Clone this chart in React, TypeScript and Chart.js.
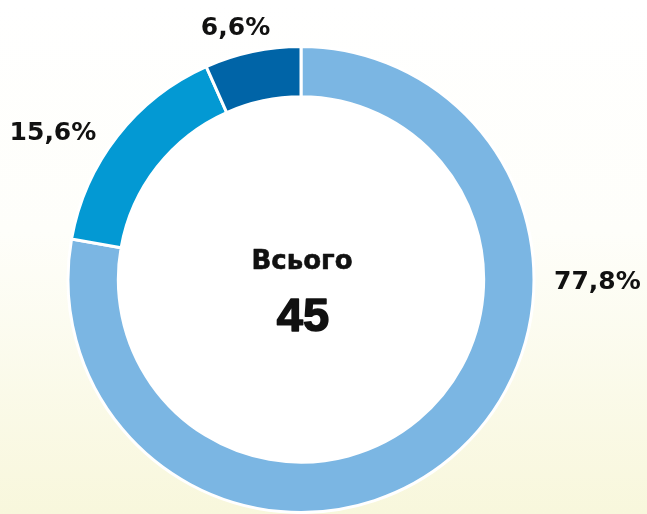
import React, { useEffect, useRef } from "react";
import { Chart, registerables } from "chart.js";

Chart.register(...registerables);

const categories = ["A", "B", "C"];
const values = [35, 7, 3];
const valueLabels = ["77,8%", "15,6%", "6,6%"];
const sliceColors = ["#7BB6E3", "#0399D3", "#0064A7"];
const totalTitle = "Всього";
const totalValue = "45";

// layout of the outside labels (angle in degrees, clockwise from top)
const LABEL_ANGLES = [90, 306, 345];
const LABEL_GAP = 20;
const WIDE_FONT = "'DejaVu Sans', Verdana, sans-serif";
const NUM_FONT = "'Liberation Sans', Arial, sans-serif";

const holePlugin = {
  id: "whiteHole",
  beforeDatasetsDraw(chart: any) {
    const meta = chart.getDatasetMeta(0);
    if (!meta.data.length) return;
    const arc0: any = meta.data[0];
    const ctx = chart.ctx;
    ctx.save();
    ctx.fillStyle = "#ffffff";
    ctx.beginPath();
    ctx.arc(arc0.x, arc0.y, arc0.innerRadius + 1, 0, Math.PI * 2);
    ctx.fill();
    ctx.restore();
  },
};

const labelPlugin = {
  id: "sliceLabels",
  afterDatasetsDraw(chart: any) {
    const ctx = chart.ctx;
    const meta = chart.getDatasetMeta(0);
    if (!meta.data.length) return;
    const arc0: any = meta.data[0];
    const cx = arc0.x;
    const cy = arc0.y;
    const R = arc0.outerRadius;
    ctx.save();
    ctx.fillStyle = "#111111";
    ctx.strokeStyle = "#111111";
    ctx.lineJoin = "round";
    ctx.textBaseline = "alphabetic";
    meta.data.forEach((arc: any, i: number) => {
      const a = (LABEL_ANGLES[i] * Math.PI) / 180;
      const dx = Math.sin(a);
      const dy = -Math.cos(a);
      const x = cx + (R + LABEL_GAP) * dx;
      const y = cy + (R + LABEL_GAP) * dy;
      ctx.font = `bold 25px ${WIDE_FONT}`;
      const side = Math.abs(dx) > 0.5;
      ctx.textAlign = dx > 0.5 ? "left" : dx < -0.5 ? "right" : "center";
      ctx.fillText(valueLabels[i], x, side ? y + 9 : dy < 0 ? y : y + 18);
    });
    ctx.textAlign = "center";
    ctx.font = `bold 26px ${WIDE_FONT}`;
    ctx.lineWidth = 0.6;
    ctx.fillText(totalTitle, cx + 1, cy - 11);
    ctx.strokeText(totalTitle, cx + 1, cy - 11);
    ctx.font = `bold 47px ${NUM_FONT}`;
    ctx.lineWidth = 1.6;
    ctx.fillText(totalValue, cx + 2, cy + 51);
    ctx.strokeText(totalValue, cx + 2, cy + 51);
    ctx.restore();
  },
};

export default function App() {
  const ref = useRef<HTMLCanvasElement>(null);
  useEffect(() => {
    const chart = new Chart(ref.current!, {
      type: "doughnut",
      data: {
        labels: categories,
        datasets: [
          {
            data: values,
            backgroundColor: sliceColors,
            borderColor: "#ffffff",
            borderWidth: 3,
            hoverBorderWidth: 3,
          },
        ],
      },
      options: {
        animation: false,
        responsive: true,
        maintainAspectRatio: false,
        cutout: "78.4%",
        layout: { padding: { top: 45, bottom: -2, left: 0, right: 45 } },
        plugins: {
          legend: { display: false },
          tooltip: { enabled: false },
        },
      },
      plugins: [holePlugin, labelPlugin],
    });
    return () => chart.destroy();
  }, []);
  return (
    <div
      style={{
        position: "fixed",
        left: 0,
        top: 0,
        width: 647,
        height: 514,
        background:
          "linear-gradient(to bottom, #ffffff 0%, #fefefa 45%, #f8f7dc 100%)",
      }}
    >
      <canvas ref={ref} style={{ width: "100%", height: "100%" }} />
    </div>
  );
}
